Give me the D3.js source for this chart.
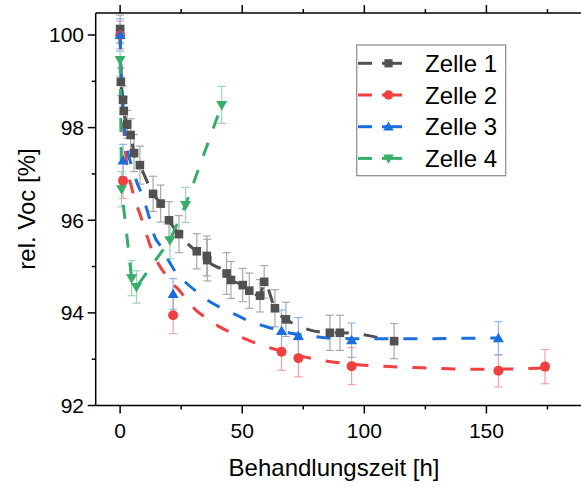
<!DOCTYPE html>
<html><head><meta charset="utf-8">
<script src="https://cdn.jsdelivr.net/npm/d3@7"></script>
<style>body{margin:0;background:#fff}svg{display:block}text{font-family:"Liberation Sans",Arial,sans-serif}</style>
</head><body>
<svg id="c" width="581" height="487"></svg>
<script>
// ---- data ----
const seriesNames = ["Zelle 1", "Zelle 2", "Zelle 3", "Zelle 4"];
const cell1X = [0, 0.3, 1.2, 1.5, 2.9, 4.3, 5.7, 8.1, 13.5, 16.6, 20.0, 24.1, 31.4, 35.5, 35.7, 43.6, 45.4, 50.2, 52.9, 57.3, 59.0, 63.4, 67.9, 85.9, 90.0, 112.2];
const cell1Y = [100.13, 98.99, 98.60, 98.36, 98.07, 97.84, 97.45, 97.19, 96.57, 96.36, 96.0, 95.70, 95.33, 95.23, 95.14, 94.85, 94.71, 94.60, 94.48, 94.37, 94.67, 94.10, 93.86, 93.57, 93.57, 93.39];
const cell1Err = [0.3, 0.3, 0.3, 0.3, 0.3, 0.35, 0.4, 0.41, 0.38, 0.4, 0.4, 0.4, 0.38, 0.43, 0.45, 0.45, 0.4, 0.36, 0.38, 0.35, 0.35, 0.4, 0.37, 0.38, 0.38, 0.38];
const cell2X = [0, 1.2, 21.7, 66.1, 73.0, 94.8, 154.9, 174.0];
const cell2Y = [100.0, 96.85, 93.95, 93.16, 93.02, 92.85, 92.75, 92.84];
const cell2Err = [0.3, 0.38, 0.4, 0.4, 0.4, 0.4, 0.35, 0.37];
const cell3X = [0, 1.2, 21.7, 66.1, 73.0, 94.8, 154.9];
const cell3Y = [100.0, 97.29, 94.41, 93.61, 93.50, 93.41, 93.45];
const cell3Err = [0.35, 0.35, 0.33, 0.45, 0.4, 0.37, 0.36];
const cell4X = [0, 0.6, 4.7, 6.7, 20.4, 26.8, 41.6];
const cell4Y = [99.46, 96.67, 94.75, 94.56, 95.57, 96.33, 98.49];
const cell4Err = [0.35, 0.38, 0.38, 0.35, 0.4, 0.38, 0.4];
// fitted curves
const fit2X = [0, 0.5, 1, 2, 3, 4.5, 6, 8, 10, 12, 14, 16, 18, 21, 24, 27, 31, 35, 40, 46, 52, 58, 65, 72, 80, 90, 100, 110, 120, 130, 140, 150, 160, 168, 174];
const fit2Y = [100.0, 99.0, 98.4, 97.6, 97.1, 96.75, 96.45, 96.15, 95.83, 95.5, 95.25, 95.03, 94.87, 94.65, 94.5, 94.3, 94.06, 93.9, 93.72, 93.56, 93.42, 93.3, 93.19, 93.09, 93.0, 92.92, 92.87, 92.84, 92.82, 92.80, 92.785, 92.78, 92.79, 92.8, 92.81];
const fit3X = [0, 0.5, 1, 2, 3, 5, 7, 9, 12, 14.2, 16.3, 20.4, 23, 27.2, 31.3, 36.8, 41.6, 47.7, 52.5, 59.3, 64, 70, 78, 85, 100, 120, 140, 155];
const fit3Y = [100, 99.0, 98.6, 97.9, 97.5, 97.15, 96.8, 96.55, 96.05, 95.64, 95.46, 95.08, 94.86, 94.64, 94.46, 94.24, 94.1, 93.95, 93.83, 93.71, 93.64, 93.56, 93.5, 93.46, 93.44, 93.44, 93.45, 93.46];
const xMajor = [0, 50, 100, 150];
const xMinor = [25, 75, 125, 175];
const yMajor = [92, 94, 96, 98, 100];
const yMinor = [93, 95, 97, 99];

const colors = ["#515151", "#F14040", "#1A6FDF", "#37AD6B"];
const errColors = ["#a8a8a8", "#f7a0a0", "#8db5ee", "#9ad5b4"];

const svg = d3.select("#c");
svg.append("rect").attr("width", 581).attr("height", 487).attr("fill", "#fff");
const L = 95.7, R = 584.1, T = 13, B = 405.5;
const x = d3.scaleLinear().domain([-10, 190]).range([L, R]);
const y = d3.scaleLinear().domain([92, 100.475]).range([B, T]);

const series = [
  {xs: cell1X, ys: cell1Y, es: cell1Err, lx: cell1X, ly: cell1Y, curve: d3.curveMonotoneX, sym: "square"},
  {xs: cell2X, ys: cell2Y, es: cell2Err, lx: fit2X, ly: fit2Y, curve: d3.curveMonotoneX, sym: "circle"},
  {xs: cell3X, ys: cell3Y, es: cell3Err, lx: fit3X, ly: fit3Y, curve: d3.curveMonotoneX, sym: "up"},
  {xs: cell4X, ys: cell4Y, es: cell4Err, lx: cell4X, ly: cell4Y, curve: d3.curveLinear, sym: "down"}
];

// error bars
series.forEach((s, i) => {
  const g = svg.append("g").attr("stroke", errColors[i]).attr("stroke-width", 1.2).attr("fill", "none");
  s.xs.forEach((xv, k) => {
    const px = x(xv), y1 = y(s.ys[k] + s.es[k]), y2 = y(s.ys[k] - s.es[k]);
    g.append("line").attr("x1", px).attr("x2", px).attr("y1", y1).attr("y2", y2);
    g.append("line").attr("x1", px - 4).attr("x2", px + 4).attr("y1", y1).attr("y2", y1);
    g.append("line").attr("x1", px - 4).attr("x2", px + 4).attr("y1", y2).attr("y2", y2);
  });
});
// lines
series.forEach((s, i) => {
  const pts = s.lx.map((v, k) => [v, s.ly[k]]);
  const line = d3.line().x(d => x(d[0])).y(d => y(d[1])).curve(s.curve);
  svg.append("path").attr("d", line(pts)).attr("fill", "none").attr("stroke", colors[i])
    .attr("stroke-width", 3).attr("stroke-dasharray", "14 15");
});
// markers
function marker(g, sym, px, py, col, sc) {
  sc = sc || 1;
  if (sym === "square") g.append("rect").attr("x", px - 4.3 * sc).attr("y", py - 4.3 * sc).attr("width", 8.6 * sc).attr("height", 8.6 * sc).attr("fill", col);
  else if (sym === "circle") g.append("circle").attr("cx", px).attr("cy", py).attr("r", 5 * sc).attr("fill", col);
  else if (sym === "up") g.append("path").attr("d", `M${px},${py - 5.5 * sc}L${px + 5.5 * sc},${py + 4 * sc}L${px - 5.5 * sc},${py + 4 * sc}Z`).attr("fill", col);
  else g.append("path").attr("d", `M${px},${py + 5.5 * sc}L${px + 5.5 * sc},${py - 4 * sc}L${px - 5.5 * sc},${py - 4 * sc}Z`).attr("fill", col);
}
series.forEach((s, i) => {
  const g = svg.append("g");
  s.xs.forEach((xv, k) => marker(g, s.sym, x(xv), y(s.ys[k]), colors[i]));
});

// axes
const ax = svg.append("g").attr("stroke", "#000").attr("stroke-width", 1.5);
ax.append("line").attr("x1", L).attr("x2", 581).attr("y1", B).attr("y2", B);
ax.append("line").attr("x1", L).attr("x2", 581).attr("y1", T).attr("y2", T);
ax.append("line").attr("x1", L).attr("x2", L).attr("y1", T).attr("y2", B);
xMajor.forEach(v => {
  ax.append("line").attr("x1", x(v)).attr("x2", x(v)).attr("y1", B).attr("y2", B + 8);
  ax.append("line").attr("x1", x(v)).attr("x2", x(v)).attr("y1", T).attr("y2", T - 8);
});
xMinor.forEach(v => {
  ax.append("line").attr("x1", x(v)).attr("x2", x(v)).attr("y1", B).attr("y2", B + 4);
  ax.append("line").attr("x1", x(v)).attr("x2", x(v)).attr("y1", T).attr("y2", T - 4);
});
yMajor.forEach(v => ax.append("line").attr("x1", L - 8).attr("x2", L).attr("y1", y(v)).attr("y2", y(v)));
yMinor.forEach(v => ax.append("line").attr("x1", L - 4).attr("x2", L).attr("y1", y(v)).attr("y2", y(v)));

const tg = svg.append("g").attr("font-size", 21).attr("fill", "#000");
xMajor.forEach(v => tg.append("text").attr("x", x(v)).attr("y", 438).attr("text-anchor", "middle").text(v));
yMajor.forEach(v => tg.append("text").attr("x", 84).attr("y", y(v) + 7.5).attr("text-anchor", "end").text(v));
svg.append("text").attr("x", 334).attr("y", 476).attr("text-anchor", "middle").attr("font-size", 24).text("Behandlungszeit [h]");
svg.append("text").attr("transform", "translate(35,209) rotate(-90)").attr("text-anchor", "middle").attr("font-size", 24).text("rel. Voc [%]");

// legend
const lg = svg.append("g");
lg.append("rect").attr("x", 356.7).attr("y", 45).attr("width", 149).attr("height", 130.7)
  .attr("fill", "#fff").attr("stroke", "#8a8a8a").attr("stroke-width", 1.2);
const syms = ["square", "circle", "up", "down"];
seriesNames.forEach((n, i) => {
  const cy = 63.3 + i * 31.7;
  lg.append("line").attr("x1", 358).attr("x2", 372).attr("y1", cy).attr("y2", cy).attr("stroke", colors[i]).attr("stroke-width", 3);
  lg.append("line").attr("x1", 382).attr("x2", 402).attr("y1", cy).attr("y2", cy).attr("stroke", colors[i]).attr("stroke-width", 3);
  marker(lg, syms[i], 388.5, cy, colors[i], 0.95);
  lg.append("text").attr("x", 425).attr("y", cy + 8.5).attr("font-size", 24).text(n);
});
</script>
</body></html>
